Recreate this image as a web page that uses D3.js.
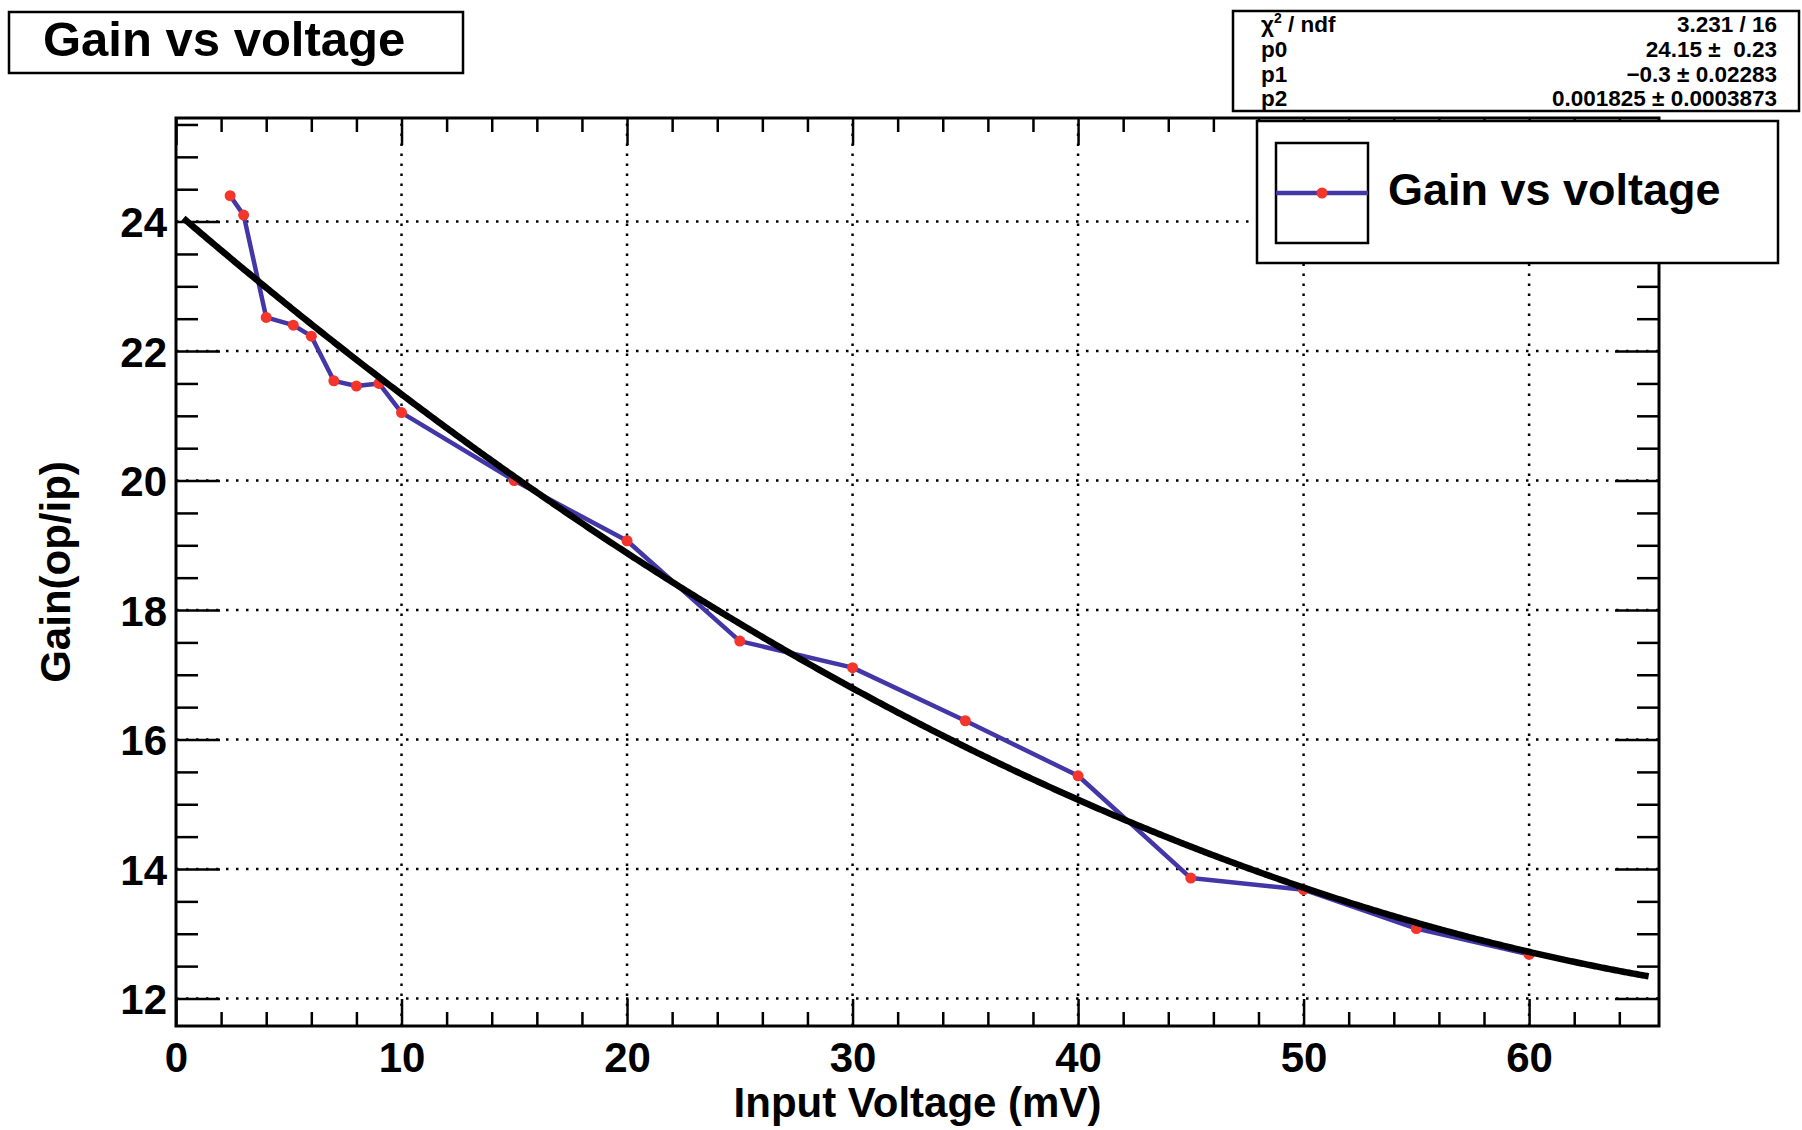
<!DOCTYPE html>
<html>
<head>
<meta charset="utf-8">
<script src="https://cdn.jsdelivr.net/npm/d3@7"></script>
<style>
  body { margin: 0; background: #fff; }
  svg text { font-family: "Liberation Sans", Arial, Helvetica, sans-serif; font-weight: bold; fill: #000; white-space: pre; }
</style>
</head>
<body>
<div id="chart"></div>
<script>
// measured points of the graph
const voltage = [2.4, 3, 4, 5.2, 6, 7, 8, 9, 10, 15, 20, 25, 30, 35, 40, 45, 50, 55, 60];
const gain = [24.4, 24.1, 22.52, 22.4, 22.23, 21.54, 21.46, 21.5, 21.05, 20.0, 19.07, 17.52, 17.11, 16.29, 15.44, 13.86, 13.68, 13.08, 12.68];

// pol2 fit result (p0 + p1*x + p2*x^2) and the range it is drawn over
const fitParams = [24.15, -0.3, 0.001825];
const fitRange = [0.33, 65.3];

const xMajorTicks = [0, 10, 20, 30, 40, 50, 60];
const yMajorTicks = [12, 14, 16, 18, 20, 22, 24];

const statLabels = ["χ2 / ndf", "p0", "p1", "p2"];
const statValues = ["3.231 / 16", "24.15 ±  0.23", "−0.3 ± 0.02283", "0.001825 ± 0.0003873"];

const titleText = "Gain vs voltage";
const xTitle = "Input Voltage (mV)";
const yTitle = "Gain(op/ip)";

function drawChart() {
    const width = 1802, height = 1130;
    const margin = {top: 118, right: 143, bottom: 104, left: 176};
    const svg = d3.select("#chart").append("svg").attr("width", width).attr("height", height);

    const x = d3.scaleLinear().domain([0, 65.76]).range([margin.left, width - margin.right]);
    const y = d3.scaleLinear().domain([11.575, 25.6]).range([height - margin.bottom, margin.top]);
    const [x0, x1] = x.range(), [y0, y1] = y.range();

    // grid (dotted)
    const grid = svg.append("g").attr("stroke", "#000").attr("stroke-width", 2.5).attr("stroke-dasharray", "2.5,7.5");
    grid.selectAll("line.gx").data(xMajorTicks.filter(d => d > 0)).join("line")
        .attr("x1", d => x(d)).attr("x2", d => x(d)).attr("y1", y0).attr("y2", y1);
    grid.selectAll("line.gy").data(yMajorTicks).join("line")
        .attr("y1", d => y(d)).attr("y2", d => y(d)).attr("x1", x0).attr("x2", x1);

    // ticks, all pointing inward
    const xMinor = d3.range(0, 65.76, 2).filter(d => d % 10 !== 0);
    const yMinor = d3.range(12, 25.6, 0.5).filter(d => d % 2 !== 0);
    const tickStyle = g => {
        g.select(".domain").remove();
        g.attr("font-family", null).attr("font-size", null);
        g.selectAll(".tick line").attr("stroke", "#000").attr("stroke-width", 2.5);
    };
    const addAxis = (axis, transform) => svg.append("g").attr("transform", transform).call(axis).call(tickStyle);

    const xBottom = addAxis(d3.axisBottom(x).tickValues(xMajorTicks).tickSize(-27).tickFormat(d3.format("d")), `translate(0,${y0})`);
    addAxis(d3.axisBottom(x).tickValues(xMinor).tickSize(-14).tickFormat(""), `translate(0,${y0})`);
    addAxis(d3.axisTop(x).tickValues(xMajorTicks).tickSize(-27).tickFormat(""), `translate(0,${y1})`);
    addAxis(d3.axisTop(x).tickValues(xMinor).tickSize(-14).tickFormat(""), `translate(0,${y1})`);

    const yLeft = addAxis(d3.axisLeft(y).tickValues(yMajorTicks).tickSize(-44).tickPadding(9).tickFormat(d3.format("d")), `translate(${x0},0)`);
    addAxis(d3.axisLeft(y).tickValues(yMinor).tickSize(-22).tickFormat(""), `translate(${x0},0)`);
    addAxis(d3.axisRight(y).tickValues(yMajorTicks).tickSize(-44).tickFormat(""), `translate(${x1},0)`);
    addAxis(d3.axisRight(y).tickValues(yMinor).tickSize(-22).tickFormat(""), `translate(${x1},0)`);

    xBottom.selectAll(".tick text").attr("font-size", 42).attr("dy", null).attr("y", 46);
    yLeft.selectAll(".tick text").attr("font-size", 42).attr("dy", "0.36em");

    // frame
    svg.append("rect").attr("x", x0).attr("y", y1).attr("width", x1 - x0).attr("height", y0 - y1)
        .attr("fill", "none").attr("stroke", "#000").attr("stroke-width", 3);

    // data line + markers
    const pts = voltage.map((v, i) => [v, gain[i]]);
    svg.append("path").datum(pts)
        .attr("d", d3.line().x(d => x(d[0])).y(d => y(d[1])))
        .attr("fill", "none").attr("stroke", "#4336a6").attr("stroke-width", 4.5).attr("stroke-linejoin", "round");
    svg.append("g").selectAll("circle").data(pts).join("circle")
        .attr("cx", d => x(d[0])).attr("cy", d => y(d[1])).attr("r", 5.5).attr("fill", "#f3352b");

    // fit curve
    const f = v => fitParams[0] + fitParams[1] * v + fitParams[2] * v * v;
    const fitPts = d3.range(fitRange[0], fitRange[1], 0.1).concat([fitRange[1]]).map(v => [v, f(v)]);
    svg.append("path").datum(fitPts)
        .attr("d", d3.line().x(d => x(d[0])).y(d => y(d[1])))
        .attr("fill", "none").attr("stroke", "#000").attr("stroke-width", 6.5);

    // axis titles
    svg.append("text").attr("x", (x0 + x1) / 2).attr("y", 1117).attr("text-anchor", "middle")
        .attr("font-size", 42).text(xTitle);
    svg.append("text").attr("transform", `translate(70,${(y0 + y1) / 2}) rotate(-90)`).attr("text-anchor", "middle")
        .attr("font-size", 42).text(yTitle);

    // title box
    svg.append("rect").attr("x", 9).attr("y", 12).attr("width", 454).attr("height", 61)
        .attr("fill", "#fff").attr("stroke", "#000").attr("stroke-width", 2.5);
    svg.append("text").attr("x", 43).attr("y", 56).attr("font-size", 49).text(titleText);

    // stats box
    svg.append("rect").attr("x", 1233).attr("y", 11).attr("width", 566).attr("height", 100)
        .attr("fill", "#fff").attr("stroke", "#000").attr("stroke-width", 2.5);
    statLabels.forEach((lab, i) => {
        const t = svg.append("text").attr("x", 1261).attr("y", 32 + i * 24.8).attr("font-size", 22.5);
        if (lab.startsWith("χ2")) {
            t.append("tspan").text("χ");
            t.append("tspan").attr("font-size", 14).attr("dy", -9).text("2");
            t.append("tspan").attr("dy", 9).text(lab.slice(2));
        } else {
            t.text(lab);
        }
        svg.append("text").attr("x", 1777).attr("y", 32 + i * 24.8).attr("font-size", 22.5)
            .attr("text-anchor", "end").text(statValues[i]);
    });

    // legend
    svg.append("rect").attr("x", 1257).attr("y", 121).attr("width", 521).attr("height", 142)
        .attr("fill", "#fff").attr("stroke", "#000").attr("stroke-width", 2.5);
    svg.append("rect").attr("x", 1276).attr("y", 143).attr("width", 92).attr("height", 100)
        .attr("fill", "none").attr("stroke", "#000").attr("stroke-width", 2.5);
    svg.append("line").attr("x1", 1276).attr("x2", 1368).attr("y1", 193).attr("y2", 193)
        .attr("stroke", "#4336a6").attr("stroke-width", 4.5);
    svg.append("circle").attr("cx", 1322).attr("cy", 193).attr("r", 5.5).attr("fill", "#f3352b");
    svg.append("text").attr("x", 1388).attr("y", 205).attr("font-size", 45).text(titleText);
}

document.addEventListener("DOMContentLoaded", () => {
    drawChart();
});
</script>
</body>
</html>
